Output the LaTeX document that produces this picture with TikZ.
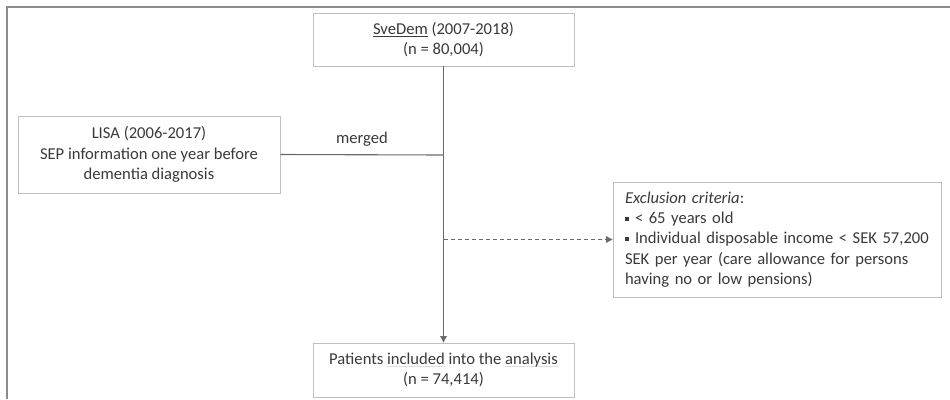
\documentclass[tikz,border=0pt]{standalone}
\usepackage{fontspec}
\setmainfont{Carlito}
\usetikzlibrary{arrows.meta}
\definecolor{txt}{HTML}{3A3A3A}
\definecolor{boxc}{HTML}{BFBFBF}
\definecolor{linec}{HTML}{6A6A6A}
\definecolor{framec}{HTML}{8C8C8C}
\newcommand{\faintul}[1]{{\setbox0\hbox{#1}\rlap{\color{gray!25}\rule[-2.2pt]{\wd0}{0.5pt}}\box0}}
\newcommand{\solidul}[1]{{\setbox0\hbox{#1}\rlap{\rule[-2.2pt]{\wd0}{0.7pt}}\box0}}
\newcommand{\sqbullet}{\rule[3pt]{4pt}{4pt}\hspace{6pt}}
\begin{document}
\begin{tikzpicture}[x=1pt,y=-1pt,
  every node/.style={text=txt, font=\fontsize{16.6}{20.3}\selectfont},
  flowbox/.style={draw=boxc, line width=0.9pt, fill=white, rectangle, align=center, inner sep=0pt},
  conn/.style={draw=linec, line width=1.1pt},
  tip/.style={-{Triangle[length=6.5pt,width=6.5pt]}}]
\useasboundingbox (0,0) rectangle (950,399);
\draw[framec, line width=1.6pt] (7,399) -- (7,7) -- (950,7);

\node[flowbox, minimum width=261, minimum height=53] (svedem) at (443.5,39.5)
  {\solidul{SveDem} (2007-2018)\\(n = 80,004)};
\node[flowbox, minimum width=262, minimum height=77] (lisa) at (149,154.5)
  {LISA (2006-2017)\\SEP information one year before\\dementia diagnosis};
\node[flowbox, minimum width=328, minimum height=115, text width=304, inner xsep=12pt, align=left] (excl) at (777,239.5)
  {\textit{Exclusion criteria}:\\
   \sqbullet < 65 years old\\
   \sqbullet Individual disposable income < SEK 57,200\\
   SEK per year (care allowance for persons\\
   having no or low pensions)};
\node[flowbox, minimum width=261, minimum height=54] (pat) at (443.5,370)
  {Patients \faintul{included} into the \faintul{analysis}\\(n = 74,414)};

\coordinate (merge) at (443.5,155);
\coordinate (split) at (443.5,239.5);
\draw[conn, tip] (svedem.south) -- (pat.north);
\draw[conn] (lisa.east) -- (merge);
\draw[conn, dashed, dash pattern=on 4pt off 3pt, tip] (split) -- (excl.west);
\node (lbl) at (362,139) {merged};
\end{tikzpicture}
\end{document}
